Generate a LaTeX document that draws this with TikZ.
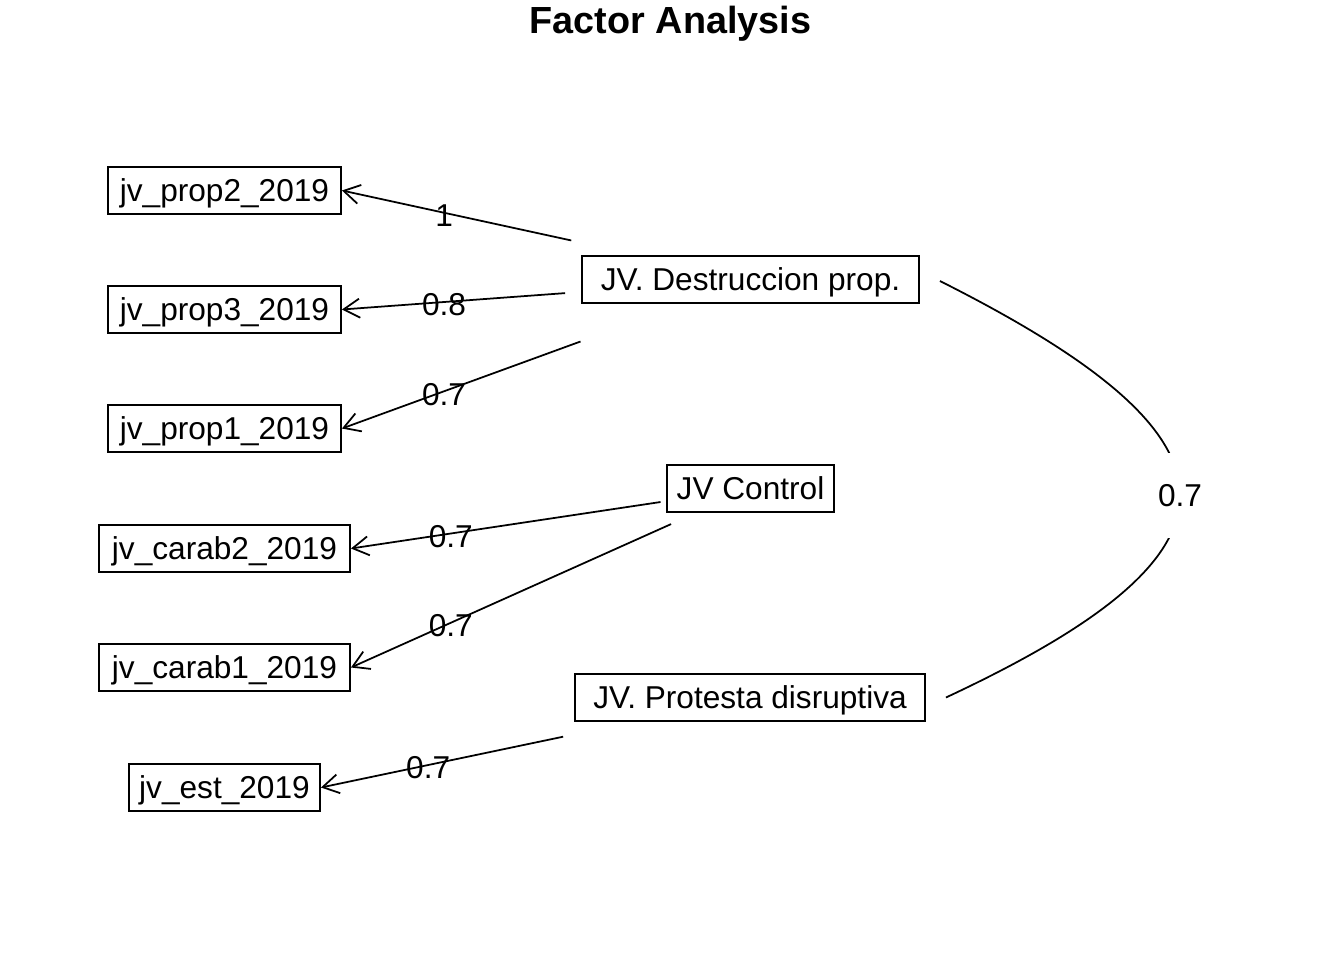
\documentclass[tikz,border=0pt]{standalone}
\usepackage{fontspec}
\setmainfont{Liberation Sans}
\usetikzlibrary{arrows.meta,positioning}

\begin{document}
\begin{tikzpicture}[x=0.02cm, y=-0.02cm,
    var/.style={draw, line width=1.1pt, minimum height=0.94cm, inner xsep=0.2cm,
                text height=0.5cm, text depth=0.08cm,
                font=\fontsize{18}{21}\selectfont},
    load/.style={-{Straight Barb[length=0.32cm, width=0.38cm]}, line width=1pt},
    wt/.style={pos=0.75, inner sep=0pt, yshift=-0.06cm, font=\fontsize{18}{21}\selectfont}]
  \useasboundingbox (0,0) rectangle (1344,960);

  \node[anchor=base, font=\bfseries\fontsize{21.5}{26}\selectfont] (title) at (670.5,33) {Factor Analysis};

  % indicators
  \node[var, minimum width=4.66cm] (prop2) at (224.5,190.5) {jv\_prop2\_2019};
  \node[var, minimum width=4.66cm] (prop3) at (224.5,309.5) {jv\_prop3\_2019};
  \node[var, minimum width=4.66cm] (prop1) at (224.5,428.5) {jv\_prop1\_2019};
  \node[var, minimum width=5.02cm] (carab2) at (224.5,548.5) {jv\_carab2\_2019};
  \node[var, minimum width=5.02cm] (carab1) at (224.5,667.5) {jv\_carab1\_2019};
  \node[var, minimum width=3.82cm] (est) at (224.5,787.5) {jv\_est\_2019};

  % factors
  \node[var, minimum width=6.74cm] (destr) at (750.5,279.5) {JV. Destruccion prop.};
  \node[var, minimum width=3.3cm] (ctrl) at (750.5,488.5) {JV Control};
  \node[var, minimum width=7cm] (prot) at (750,697.5) {JV. Protesta disruptiva};

  % loadings
  \draw[load, shorten <=3.67cm] (destr.center) -- (prop2.east) node[wt] {1};
  \draw[load, shorten <=3.72cm] (destr.center) -- (prop3.east) node[wt] {0.8};
  \draw[load, shorten <=3.62cm] (destr.center) -- (prop1.east) node[wt] {0.7};
  \draw[load, shorten <=1.82cm] (ctrl.center) -- (carab2.east) node[wt] {0.7};
  \draw[load, shorten <=1.74cm] (ctrl.center) -- (carab1.east) node[wt] {0.7};
  \draw[load, shorten <=3.82cm] (prot.center) -- (est.east) node[wt] {0.7};

  % factor correlation
  \draw[line width=1pt]
    ([xshift=0.4cm, yshift=-0.03cm]destr.east) .. controls (1256,440) and (1262,550)
      .. ([xshift=0.4cm]prot.east)
    node[pos=0.5, fill=white, minimum height=1.7cm, inner xsep=2pt, yshift=-0.04cm,
         font=\fontsize{18}{21}\selectfont] (r) {0.7};
\end{tikzpicture}
\end{document}
